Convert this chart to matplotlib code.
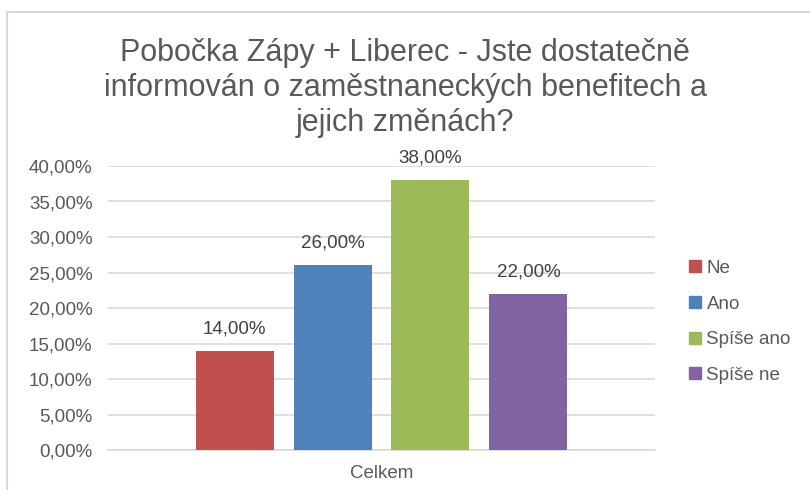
import matplotlib
matplotlib.use("Agg")
import matplotlib.pyplot as plt
from matplotlib.ticker import FuncFormatter
from matplotlib.lines import Line2D

categories = ["Ne", "Ano", "Spíše ano", "Spíše ne"]
values = [0.14, 0.26, 0.38, 0.22]
colors = ["#C0504D", "#4F81BD", "#9BBB59", "#8064A2"]
group_label = "Celkem"
title = "Pobočka Zápy + Liberec - Jste dostatečně\ninformován o zaměstnaneckých benefitech a\njejich změnách?"

plt.rcParams['font.family'] = ['Liberation Sans', 'DejaVu Sans']
txt = "#595959"

fig = plt.figure(figsize=(8.1, 4.9), dpi=100)
ax = fig.add_axes([108/810, 1-450/490, 547/810, (450-166)/490])

bar_w = 78/547
step = 98/547
n = len(values)
for i, (c, v, col) in enumerate(zip(categories, values, colors)):
    x = (i - (n-1)/2) * step
    ax.bar(x, v, width=bar_w, color=col, label=c, zorder=3)
    ax.text(x, v + 0.019, f"{v*100:.2f}".replace(".", ",") + "%", ha="center",
            va="bottom", fontsize=13.5, color="#404040")

ax.set_xlim(-0.5, 0.5)
ax.set_ylim(0, 0.40)
ax.set_yticks([i*0.05 for i in range(9)])
ax.yaxis.set_major_formatter(FuncFormatter(lambda y, p: f"{y*100:.2f}".replace(".", ",") + "%"))
ax.set_xticks([0])
ax.set_xticklabels([group_label])
ax.tick_params(axis='both', length=0, labelsize=13.5, labelcolor=txt)
ax.tick_params(axis='y', pad=11)
ax.tick_params(axis='x', pad=11)
ax.grid(axis='y', color="#D9D9D9", linewidth=1.2, zorder=0)
for s in ["top", "right", "left"]:
    ax.spines[s].set_visible(False)
ax.spines["bottom"].set_color("#D9D9D9")
ax.spines["bottom"].set_linewidth(1.2)

fig.text(405/810, 1-88/490, title, ha="center", va="center", fontsize=22, color=txt,
         linespacing=1.2)

handles = [Line2D([0], [0], marker='s', linestyle='none', markersize=8,
                  markerfacecolor=col, markeredgecolor=col) for col in colors]
fig.legend(handles, categories, loc="upper left", bbox_to_anchor=(669/810, 1-243/490),
           frameon=False, fontsize=13.5, labelcolor=txt, handletextpad=0.1,
           labelspacing=0.99, handlelength=1.0)

fig.add_artist(Line2D([7/810, 7/810], [0, 1-12/490], transform=fig.transFigure,
                      color="#D9D9D9", linewidth=1.5))
fig.add_artist(Line2D([7/810, 1], [1-12/490, 1-12/490], transform=fig.transFigure,
                      color="#D9D9D9", linewidth=1.5))

fig.savefig("out.png", dpi=100)
